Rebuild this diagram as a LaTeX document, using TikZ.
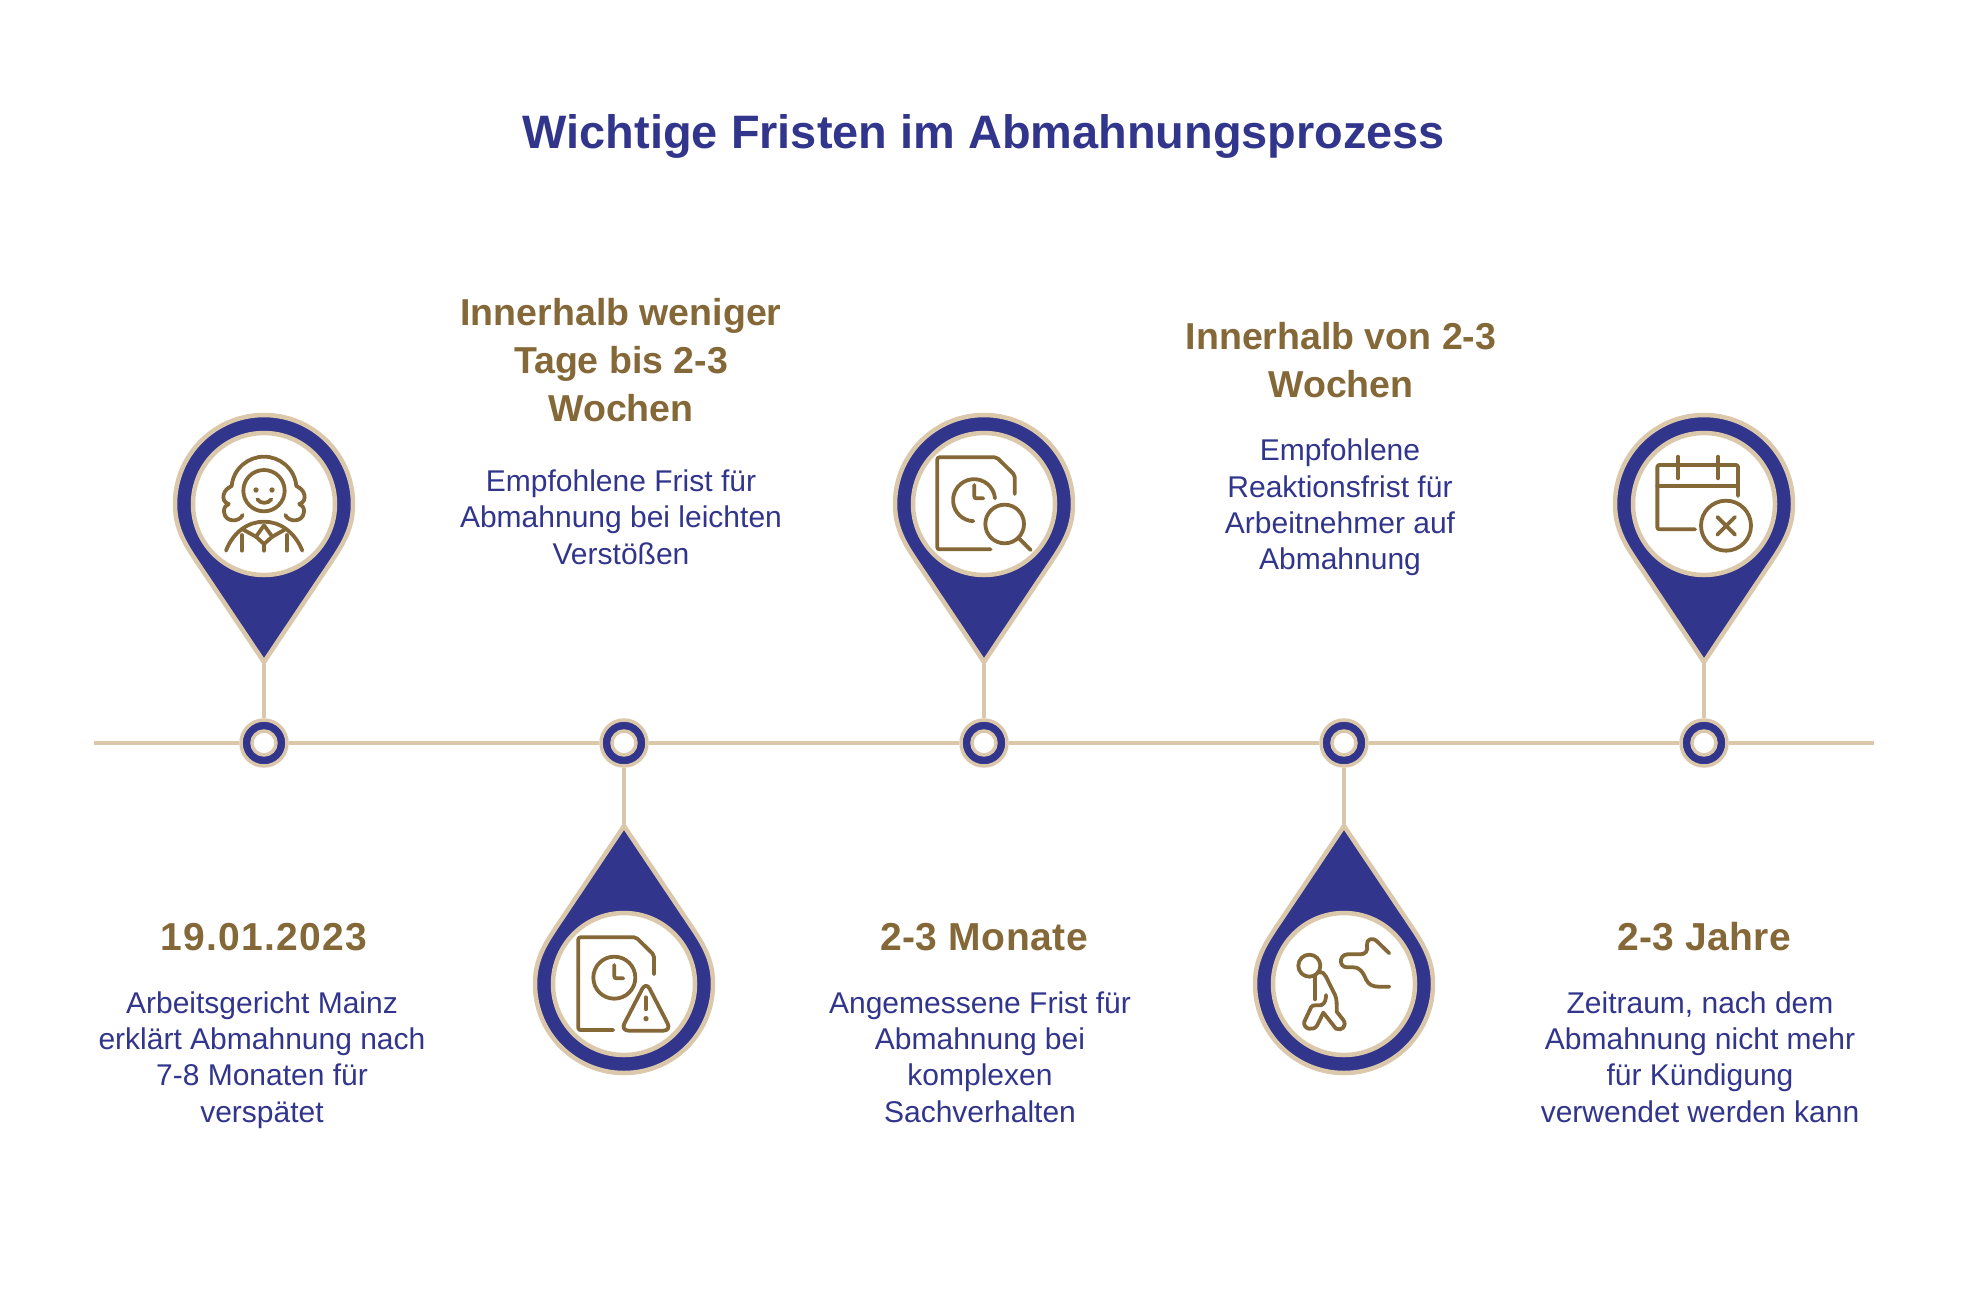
\documentclass[tikz,border=0pt]{standalone}
\usepackage{fontspec}
\setmainfont{Liberation Sans}
\definecolor{navy}{RGB}{50,53,140}
\definecolor{beige}{RGB}{219,199,170}
\definecolor{brownc}{RGB}{133,104,56}
\tikzset{
  pinbody/.style={draw=beige,fill=navy,line width=4.5pt,line join=miter},
  hole/.style={circle,draw=beige,fill=white,line width=4.5pt,minimum size=142pt,inner sep=0pt},
  dotnode/.style={circle,draw=beige,fill=navy,line width=3.5pt,minimum size=46pt,inner sep=0pt},
  dothole/.style={circle,draw=beige,fill=white,line width=3.5pt,minimum size=24pt,inner sep=0pt},
  conn/.style={draw=beige,line width=4pt},
  titletext/.style={text=navy,font=\fontsize{46.9}{54}\selectfont\bfseries,align=center},
  headtext/.style={text=brownc,font=\fontsize{37.5}{48}\selectfont\bfseries,align=center},
  headwide/.style={text=brownc,font=\fontsize{39}{48}\selectfont\bfseries\addfontfeature{LetterSpace=#1},align=center},
  bodytext/.style={text=navy,font=\fontsize{30}{36.3}\selectfont,align=center},
  icon/.style={draw=brownc,line width=3.8pt,line cap=round,line join=round,rounded corners=2pt},
  zoomgrid/.style={x=0.33333pt,y=-0.33333pt}
}
\newcommand{\pinpath}[3]{%
  \begin{scope}[shift={(#1,#2)},yscale=#3]
    \draw[pinbody] (0,158) -- (-69,55) .. controls (-81,37) and (-89,22) .. (-89,0)
      .. controls (-89,-49.2) and (-49.2,-89) .. (0,-89)
      .. controls (49.2,-89) and (89,-49.2) .. (89,0)
      .. controls (89,22) and (81,37) .. (69,55) -- cycle;
  \end{scope}}
\begin{document}
\begin{tikzpicture}[x=1pt,y=-1pt]
\useasboundingbox (0,0) rectangle (1968,1296);
\fill[white] (0,0) rectangle (1968,1296);

\node[titletext] (title) at (984,136) {Wichtige Fristen im Abmahnungsprozess};

% timeline
\coordinate (axL) at (94,743);
\coordinate (axR) at (1874,743);
\foreach \i/\x in {1/264,2/624,3/984,4/1344,5/1704}{
  \node[dotnode] (d\i) at (\x,743) {};
  \node[dothole] (e\i) at (\x,743) {};
}
\draw[conn] (axL) -- (d1) (d1) -- (d2) (d2) -- (d3) (d3) -- (d4) (d4) -- (d5) (d5) -- (axR);

% connectors, then pins on top
\coordinate (t1) at (264,662);
\coordinate (t3) at (984,662);
\coordinate (t5) at (1704,662);
\coordinate (t2) at (624,826);
\coordinate (t4) at (1344,826);
\foreach \i in {1,2,3,4,5}{ \draw[conn] (t\i) -- (d\i); }
\pinpath{264}{504}{1}
\pinpath{984}{504}{1}
\pinpath{1704}{504}{1}
\pinpath{624}{984}{-1}
\pinpath{1344}{984}{-1}
\node[hole] (h1) at (264,504) {};
\node[hole] (h3) at (984,504) {};
\node[hole] (h5) at (1704,504) {};
\node[hole] (h2) at (624,984) {};
\node[hole] (h4) at (1344,984) {};

% icon 1: judge
\begin{scope}[shift={(150,400)},zoomgrid]
  \draw[icon] (342,272) circle[radius=62];
  \fill[brownc] (318,270) circle[radius=8] (366,270) circle[radius=8];
  \draw[icon] (322,298) .. controls (332,312) and (354,312) .. (364,298);
  \draw[icon,rounded corners=0pt] (278,345) .. controls (268,368) and (224,368) .. (222,335)
    .. controls (221,322) and (228,316) .. (236,312) .. controls (222,308) and (218,296) .. (221,284)
    .. controls (224,270) and (236,262) .. (245,258) .. controls (250,205) and (295,170) .. (342,170)
    .. controls (389,170) and (434,205) .. (439,258) .. controls (448,262) and (460,270) .. (463,284)
    .. controls (466,296) and (462,308) .. (448,312) .. controls (456,316) and (463,322) .. (462,335)
    .. controls (460,368) and (416,368) .. (406,345);
  \draw[icon,rounded corners=0pt] (228,452) .. controls (250,395) and (295,365) .. (342,365)
    .. controls (389,365) and (434,395) .. (457,452);
  \draw[icon,rounded corners=0pt] (275,405) -- (275,452) (410,405) -- (410,452) (342,432) -- (342,452);
  \draw[icon,rounded corners=0pt] (278,388) -- (318,410) -- (342,376) -- (367,410) -- (406,388);
  \draw[icon,rounded corners=0pt] (318,410) -- (342,432) -- (367,410);
\end{scope}

% icon 2: document, clock, warning
\begin{scope}[shift={(510,710)},zoomgrid]
  \draw[icon] (310,960) -- (205,960) -- (205,682) -- (378,682) -- (432,735) -- (432,793);
  \draw[icon] (313,803) circle[radius=63];
  \draw[icon] (313,765) -- (313,805) -- (340,805);
  \draw[icon,rounded corners=8pt] (408,815) -- (484,962) -- (332,962) -- cycle;
  \draw[icon] (408,862) -- (408,898);
  \fill[brownc] (408,926) circle[radius=8];
\end{scope}

% icon 3: document, clock, magnifier
\begin{scope}[shift={(880,430)},zoomgrid]
  \draw[icon] (332,358) -- (172,358) -- (172,82) -- (350,82) -- (404,135) -- (404,192);
  \draw[icon] (345,205) arc[start angle=355,end angle=92,radius=63];
  \draw[icon] (283,165) -- (283,205) -- (310,205);
  \draw[icon] (374,282) circle[radius=58];
  \draw[icon] (415,323) -- (452,360);
\end{scope}

% icon 4: person walking away
\begin{scope}[shift={(1240,900)},zoomgrid]
  \draw[icon] (208,197) circle[radius=33];
  \draw[icon,rounded corners=0pt] (448,160) -- (412,125) .. controls (398,110) and (378,118) .. (381,135)
    .. controls (384,152) and (378,163) .. (360,163) -- (322,163)
    .. controls (296,165) and (296,202) .. (322,202) -- (340,202)
    .. controls (362,202) and (370,220) .. (378,238) .. controls (386,255) and (400,260) .. (415,260) -- (448,260);
  \draw[icon,rounded corners=0pt] (225,228) -- (225,298);
  \draw[icon,rounded corners=0pt] (238,217) .. controls (248,215) and (254,222) .. (258,230)
    -- (285,285) .. controls (291,298) and (290,310) .. (290,335) -- (310,360)
    .. controls (322,378) and (305,394) .. (288,386) -- (250,338) -- (232,375)
    .. controls (222,395) and (188,388) .. (193,365) -- (213,322)
    .. controls (218,312) and (232,318) .. (245,315) .. controls (255,310) and (258,298) .. (258,285);
\end{scope}

% icon 5: calendar with x
\begin{scope}[shift={(1600,430)},zoomgrid]
  \draw[icon] (285,298) -- (172,298) -- (172,105) -- (414,105) -- (414,198);
  \draw[icon,rounded corners=0pt] (172,167) -- (414,167);
  \draw[icon] (234,80) -- (234,145) (354,80) -- (354,145);
  \draw[icon] (378,287) circle[radius=75];
  \draw[icon] (352,261) -- (405,314) (405,261) -- (352,314);
\end{scope}

% texts
\node[headwide=3.2] (h-a) at (264,937) {19.01.2023};
\node[bodytext] (b-a) at (262,1060) {Arbeitsgericht Mainz\\erklärt Abmahnung nach\\7-8 Monaten für\\verspätet};
\node[headtext] (h-b) at (621,360) {Innerhalb weniger\\Tage bis 2-3\\Wochen};
\node[bodytext] (b-b) at (621,517) {Empfohlene Frist für\\Abmahnung bei leichten\\Verstößen};
\node[headwide=1.3] (h-c) at (984,937) {2-3 Monate};
\node[bodytext] (b-c) at (980,1057) {Angemessene Frist für\\Abmahnung bei\\komplexen\\Sachverhalten};
\node[headtext] (h-d) at (1341,360) {Innerhalb von 2-3\\Wochen};
\node[bodytext] (b-d) at (1340,507.5) {Empfohlene\\Reaktionsfrist für\\Arbeitnehmer auf\\Abmahnung};
\node[headwide=0.8] (h-e) at (1704,937) {2-3 Jahre};
\node[bodytext] (b-e) at (1700,1057) {Zeitraum, nach dem\\Abmahnung nicht mehr\\für Kündigung\\verwendet werden kann};
\end{tikzpicture}
\end{document}
